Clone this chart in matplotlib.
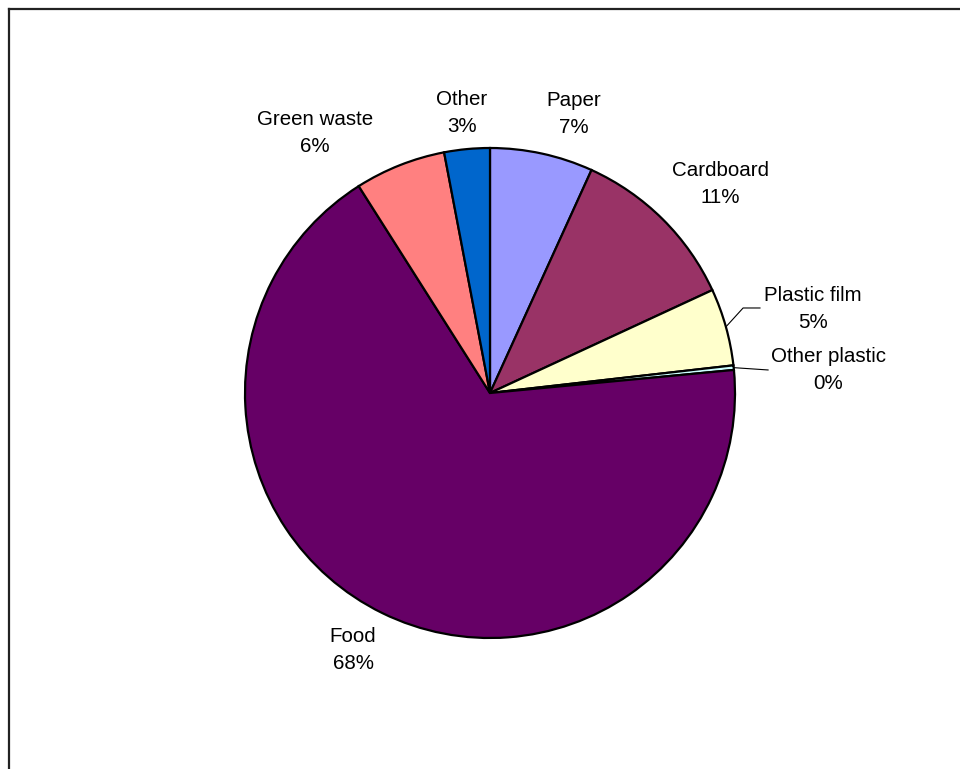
import matplotlib.pyplot as plt
from matplotlib.lines import Line2D
import numpy as np

plt.rcParams['font.family'] = ['Liberation Sans', 'DejaVu Sans']

categories = ['Paper', 'Cardboard', 'Plastic film', 'Other plastic', 'Food', 'Green waste', 'Other']
shares = [6.8, 11.3, 5.1, 0.3, 67.5, 6.0, 3.0]
colors = ['#9999FF', '#993366', '#FFFFCC', '#CCFFFF', '#660066', '#FF8080', '#0066CC']

# label centres (data units, pie radius = 1)
label_pos = [(0.343, 1.139), (0.939, 0.853), (1.318, 0.343), (1.380, 0.094),
             (-0.559, -1.049), (-0.714, 1.061), (-0.114, 1.143)]

W, H, DPI = 960, 769, 100
CX, CY, R = 490, 393, 245

fig = plt.figure(figsize=(W / DPI, H / DPI), dpi=DPI)
ax = fig.add_axes([0, 0, 1, 1])

wedges, _ = ax.pie(shares, colors=colors, startangle=90, counterclock=False,
                   radius=1.0, wedgeprops=dict(edgecolor='black', linewidth=1.6))

# fix the scale so that one data unit = R pixels, centre at (CX, CY)
ax.set_xlim(-CX / R, (W - CX) / R)
ax.set_ylim(-(H - CY) / R, CY / R)
ax.set_aspect('equal')
ax.axis('off')

total = sum(shares)
for name, val, (lx, ly) in zip(categories, shares, label_pos):
    pct = int(100.0 * val / total + 0.5)
    ax.text(lx, ly, f'{name}\n{pct}%', ha='center', va='center',
            fontsize=14.8, linespacing=1.5, color='black')

# leader lines for the two thin plastic slices
cum = np.cumsum([0] + shares) / total
for i, ends in [(2, [(1.033, 0.347), (1.102, 0.347)]), (3, [(1.135, 0.094)])]:
    mid = (cum[i] + cum[i + 1]) / 2 * 2 * np.pi
    xs = [np.sin(mid)] + [p[0] for p in ends]
    ys = [np.cos(mid)] + [p[1] for p in ends]
    ax.plot(xs, ys, color='black', linewidth=0.8)

# chart area frame (top and left edges visible)
fig.add_artist(Line2D([8.5 / W, 8.5 / W], [0, 1 - 8.5 / H], transform=fig.transFigure,
                      color='#222222', linewidth=1.6))
fig.add_artist(Line2D([8.5 / W, 1], [1 - 8.5 / H, 1 - 8.5 / H], transform=fig.transFigure,
                      color='#222222', linewidth=1.6))

fig.savefig('out.png', dpi=DPI)
